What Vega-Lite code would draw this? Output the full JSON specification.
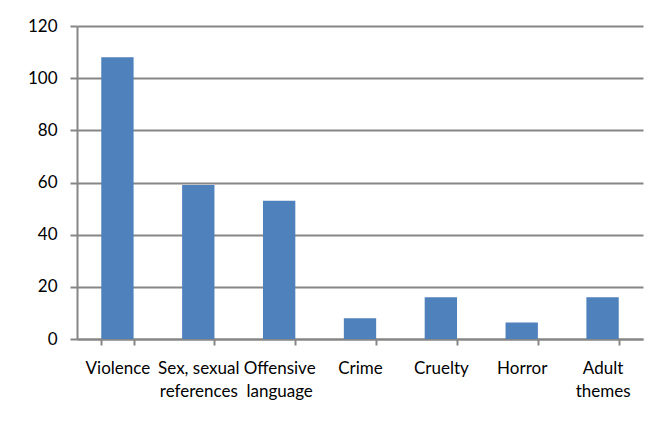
{
  "$schema": "https://vega.github.io/schema/vega-lite/v6.json",
  "width": 566,
  "height": 313,
  "autosize": {"type": "none"},
  "padding": {"left": 77, "top": 26, "right": 22, "bottom": 85},
  "background": "white",
  "data": {
    "values": [
      {"category": "Violence", "count": 108},
      {"category": "Sex, sexual references", "count": 59},
      {"category": "Offensive language", "count": 53},
      {"category": "Crime", "count": 8},
      {"category": "Cruelty", "count": 16},
      {"category": "Horror", "count": 6.3},
      {"category": "Adult themes", "count": 16}
    ]
  },
  "mark": {"type": "bar", "color": "#4F81BD"},
  "encoding": {
    "x": {
      "field": "category",
      "type": "nominal",
      "sort": null,
      "scale": {"paddingInner": 0.6, "paddingOuter": 0.3},
      "axis": {
        "title": null,
        "labelAngle": 0,
        "labelAlign": "center",
        "labelBaseline": "top",
        "labelFont": "Lato",
        "labelFontSize": 17,
        "labelColor": "#000000",
        "labelLineHeight": 23,
        "labelPadding": 15,
        "labelExpr": "datum.label == 'Sex, sexual references' ? ['Sex, sexual', 'references'] : datum.label == 'Offensive language' ? ['Offensive', 'language'] : datum.label == 'Adult themes' ? ['Adult', 'themes'] : datum.label",
        "domainColor": "#868686",
        "domainWidth": 2,
        "tickColor": "#868686",
        "tickWidth": 2,
        "tickSize": 6,
        "tickBand": "extent"
      }
    },
    "y": {
      "field": "count",
      "type": "quantitative",
      "scale": {"domain": [0, 120], "nice": false},
      "axis": {
        "title": null,
        "values": [0, 20, 40, 60, 80, 100, 120],
        "labelFont": "Lato",
        "labelFontSize": 17,
        "labelColor": "#000000",
        "labelPadding": 13,
        "gridColor": "#868686",
        "gridWidth": 2,
        "domainColor": "#868686",
        "domainWidth": 2,
        "tickColor": "#868686",
        "tickWidth": 2,
        "tickSize": 7
      }
    }
  },
  "config": {"view": {"stroke": null}}
}
